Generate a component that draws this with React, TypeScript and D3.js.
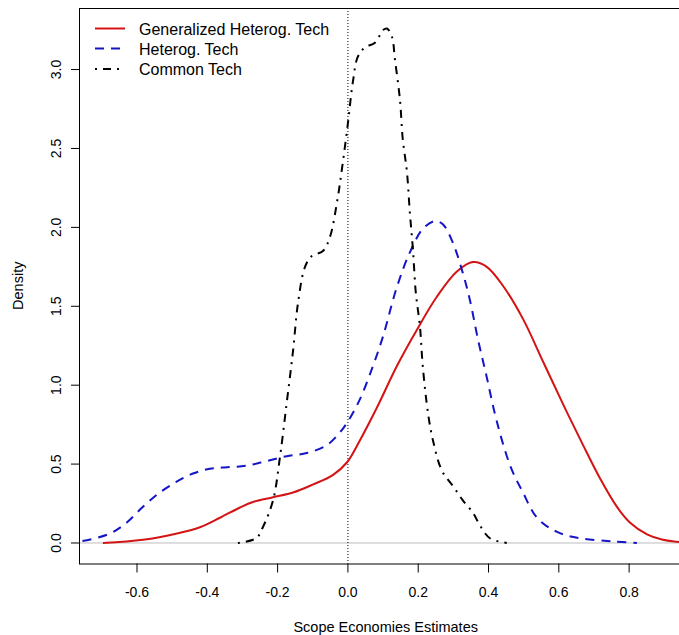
import * as d3 from 'd3';
import React from 'react';

// density estimates (x = scope economies, d = density)
const generalizedX = [-0.697, -0.583, -0.486, -0.421, -0.364, -0.307, -0.27, -0.213, -0.156, -0.1, -0.043, -0.003, 0.034, 0.083, 0.139, 0.196, 0.253, 0.31, 0.356, 0.395, 0.441, 0.498, 0.555, 0.612, 0.669, 0.717, 0.765, 0.802, 0.851, 0.896, 0.936, 0.99];
const generalizedD = [0, 0.02, 0.06, 0.1, 0.16, 0.225, 0.26, 0.29, 0.32, 0.37, 0.43, 0.51, 0.65, 0.86, 1.12, 1.35, 1.56, 1.72, 1.78, 1.75, 1.63, 1.42, 1.15, 0.88, 0.62, 0.41, 0.23, 0.13, 0.055, 0.02, 0.008, 0.0];

const heterogX = [-0.8, -0.762, -0.677, -0.629, -0.583, -0.535, -0.486, -0.441, -0.393, -0.344, -0.287, -0.23, -0.174, -0.117, -0.06, -0.023, 0, 0.034, 0.071, 0.1, 0.139, 0.176, 0.213, 0.248, 0.27, 0.299, 0.327, 0.347, 0.37, 0.395, 0.418, 0.441, 0.467, 0.498, 0.538, 0.595, 0.66, 0.754, 0.822];
const heterogD = [0.003, 0.01, 0.06, 0.13, 0.23, 0.32, 0.39, 0.44, 0.47, 0.48, 0.49, 0.52, 0.55, 0.57, 0.62, 0.7, 0.77, 0.91, 1.12, 1.31, 1.62, 1.84, 1.99, 2.04, 2.02, 1.9, 1.71, 1.54, 1.29, 1.05, 0.82, 0.63, 0.46, 0.32, 0.16, 0.07, 0.03, 0.01, 0.0];

const commonX = [-0.313, -0.261, -0.242, -0.213, -0.193, -0.174, -0.156, -0.142, -0.122, -0.102, -0.071, -0.051, -0.031, -0.017, 0, 0.014, 0.028, 0.048, 0.077, 0.1, 0.111, 0.125, 0.134, 0.148, 0.156, 0.168, 0.176, 0.185, 0.193, 0.205, 0.213, 0.228, 0.242, 0.267, 0.299, 0.327, 0.356, 0.376, 0.404, 0.452];
const commonD = [0, 0.03, 0.1, 0.27, 0.55, 0.89, 1.22, 1.52, 1.75, 1.82, 1.85, 1.94, 2.16, 2.37, 2.66, 2.92, 3.08, 3.14, 3.17, 3.25, 3.26, 3.21, 3.06, 2.81, 2.56, 2.35, 2.1, 1.86, 1.59, 1.37, 1.12, 0.82, 0.65, 0.46, 0.36, 0.27, 0.19, 0.11, 0.03, 0.0];

const xTicks = [-0.6, -0.4, -0.2, 0.0, 0.2, 0.4, 0.6, 0.8];
const yTicks = [0.0, 0.5, 1.0, 1.5, 2.0, 2.5, 3.0];

const legendLabels = ['Generalized Heterog. Tech', 'Heterog. Tech', 'Common Tech'];
const seriesColors = ['#d41414', '#1414c8', '#000000'];
const seriesDash = ['none', '9,7', '2,6,8,6'];

const width = 679;
const height = 635;
const font = '"Liberation Sans", Arial, sans-serif';

const App = () => {
  const x = d3.scaleLinear().domain([-0.765, 0.98]).range([79, 692.4]);
  const y = d3.scaleLinear().domain([-0.13, 3.39]).range([563.5, 8]);

  // centripetal catmull-rom: passes through the read points, little overshoot
  const line = d3
    .line<[number, number]>()
    .x((d) => x(d[0]))
    .y((d) => y(Math.max(0, d[1])))
    .curve(d3.curveCatmullRom.alpha(0.5));

  const series = [
    d3.zip(generalizedX, generalizedD) as [number, number][],
    d3.zip(heterogX, heterogD) as [number, number][],
    d3.zip(commonX, commonD) as [number, number][],
  ];

  const [x0, x1] = x.range();
  const [yb, yt] = y.range();

  return (
    <svg
      width={width}
      height={height}
      style={{ position: 'absolute', left: 0, top: 0, background: '#fff' }}
      fontFamily={font}
    >
      <defs>
        <clipPath id="plot-clip">
          <rect x={x0} y={yt} width={x1 - x0} height={yb - yt} />
        </clipPath>
      </defs>

      {/* zero line and vertical reference at 0 */}
      <line x1={x0} x2={x1} y1={y(0)} y2={y(0)} stroke="#bebebe" strokeWidth={1} />
      <line x1={x(0)} x2={x(0)} y1={yt} y2={yb} stroke="#000" strokeWidth={1} strokeDasharray="1,2" />

      <g clipPath="url(#plot-clip)">
        {series.map((s, i) => (
          <path
            key={i}
            d={line(s) ?? ''}
            fill="none"
            stroke={seriesColors[i]}
            strokeWidth={2}
            strokeDasharray={seriesDash[i]}
          />
        ))}
      </g>

      {/* box */}
      <rect x={x0 + 0.5} y={yt + 0.5} width={x1 - x0} height={yb - yt} fill="none" stroke="#000" strokeWidth={1} />

      {/* x axis */}
      <g>
        {xTicks.map((t) => (
          <g key={t}>
            <line x1={x(t)} x2={x(t)} y1={yb} y2={yb + 9} stroke="#000" />
            <text x={x(t)} y={597} textAnchor="middle" fontSize={14} fill="#000">
              {t.toFixed(1)}
            </text>
          </g>
        ))}
        <text x={(x0 + x1) / 2} y={632} textAnchor="middle" fontSize={14.5} fill="#000">
          Scope Economies Estimates
        </text>
      </g>

      {/* y axis */}
      <g>
        {yTicks.map((t) => (
          <g key={t}>
            <line x1={x0 - 8} x2={x0} y1={y(t)} y2={y(t)} stroke="#000" />
            <text
              transform={`translate(61,${y(t)}) rotate(-90)`}
              textAnchor="middle"
              fontSize={14}
              fill="#000"
            >
              {t.toFixed(1)}
            </text>
          </g>
        ))}
        <text
          transform={`translate(23,${(yt + yb) / 2}) rotate(-90)`}
          textAnchor="middle"
          fontSize={14.5}
          fill="#000"
        >
          Density
        </text>
      </g>

      {/* legend */}
      <g>
        {legendLabels.map((label, i) => {
          const ly = [28.5, 48.5, 69][i];
          return (
            <g key={label}>
              <line
                x1={95}
                x2={125}
                y1={ly}
                y2={ly}
                stroke={seriesColors[i]}
                strokeWidth={2}
                strokeDasharray={seriesDash[i]}
              />
              <text x={139} y={ly + 6} fontSize={16} fill="#000">
                {label}
              </text>
            </g>
          );
        })}
      </g>
    </svg>
  );
};

export default App;
